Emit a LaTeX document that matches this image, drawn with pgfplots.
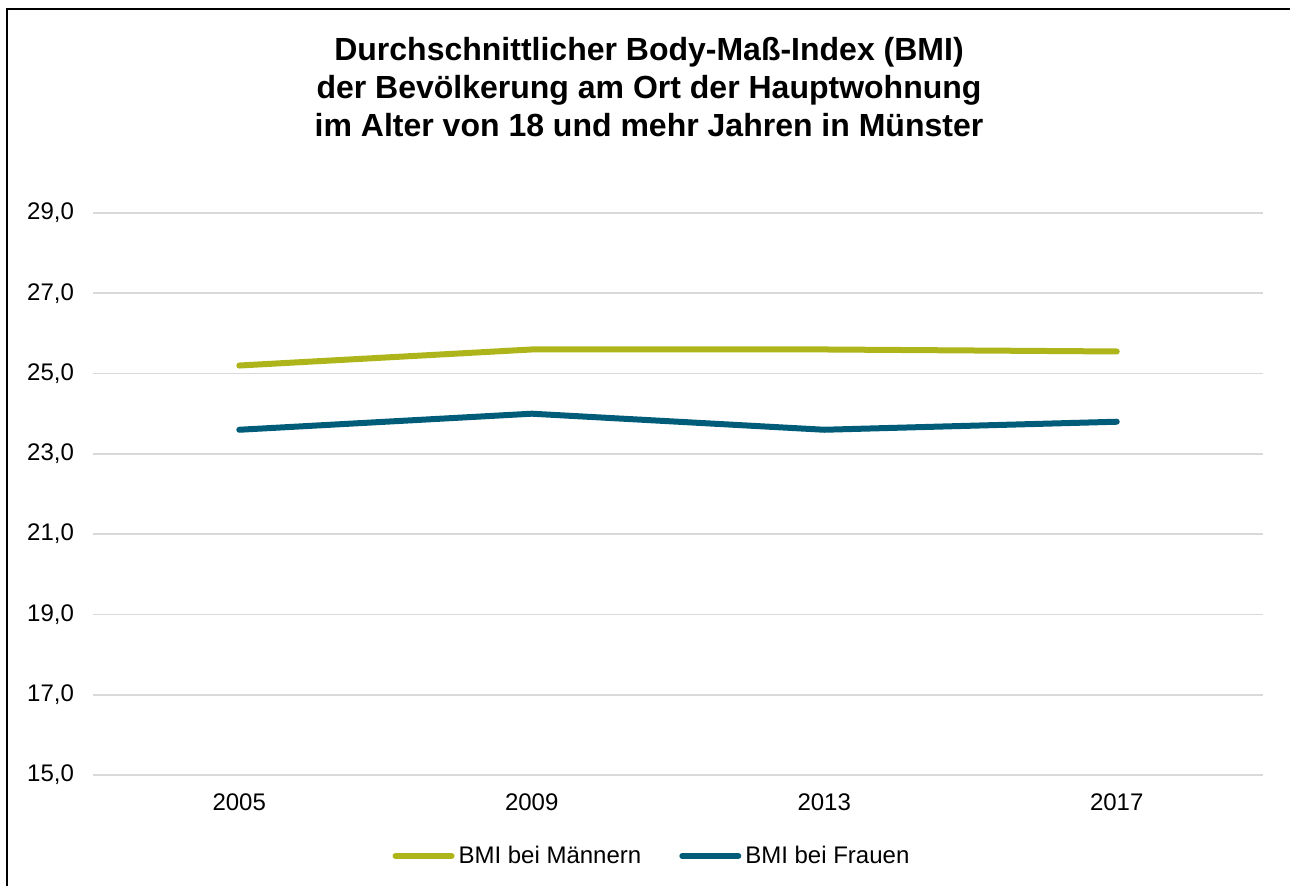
\documentclass[border=0pt]{standalone}
\usepackage{fontspec}
\setmainfont{Liberation Sans}
\usepackage{pgfplots}
\pgfplotsset{compat=1.18}

\definecolor{maenner}{HTML}{AEB51A}
\definecolor{frauen}{HTML}{005C78}
\definecolor{gridgray}{HTML}{D9D9D9}

\begin{document}
\begin{tikzpicture}
    \useasboundingbox (-46.5pt,-55.5pt) rectangle (598.5pt,387.5pt);
    \draw[line width=1pt] (-43pt,-56pt) -- (-43pt,383pt) -- (600pt,383pt);
    \node[align=center, font=\bfseries\fontsize{16}{19}\selectfont] at (278pt,344pt)
        {Durchschnittlicher Body-Maß-Index (BMI)\\der Bevölkerung am Ort der Hauptwohnung\\im Alter von 18 und mehr Jahren in Münster};
    \begin{axis}[
        at={(0,0)}, anchor=south west,
        scale only axis,
        width=585pt, height=281pt,
        xmin=-0.5, xmax=3.5,
        ymin=15, ymax=29,
        ytick={15,17,...,29},
        xtick={0,1,2,3},
        xticklabels={2005,2009,2013,2017},
        axis line style={draw=none},
        tick style={draw=none},
        major tick length=0pt,
        ymajorgrids,
        grid style={gridgray, line width=0.8pt},
        tick label style={font=\fontsize{12}{14}\selectfont},
        /pgf/number format/fixed,
        /pgf/number format/fixed zerofill,
        /pgf/number format/precision=1,
        /pgf/number format/use comma,
        /pgf/number format/assume math mode=true,
        y tick label style={xshift=-6pt},
        x tick label style={yshift=-6pt},
        legend style={at={(0.4786,-0.144)}, anchor=center, draw=none,
            font=\fontsize{12}{14}\selectfont,
            /tikz/every even column/.append style={column sep=17pt}},
        legend columns=2,
        legend image code/.code={\draw[#1, line cap=round] (0pt,0pt) -- (28pt,0pt);},
        ]
        \addplot[maenner, line width=3pt, line cap=round, line join=round] coordinates {
            (0, 25.2)
            (1, 25.6)
            (2, 25.6)
            (3, 25.55)
        };
        \addlegendentry{BMI bei Männern}
        \addplot[frauen, line width=3pt, line cap=round, line join=round] coordinates {
            (0, 23.6)
            (1, 24.0)
            (2, 23.6)
            (3, 23.8)
        };
        \addlegendentry{BMI bei Frauen}
    \end{axis}
\end{tikzpicture}
\end{document}
